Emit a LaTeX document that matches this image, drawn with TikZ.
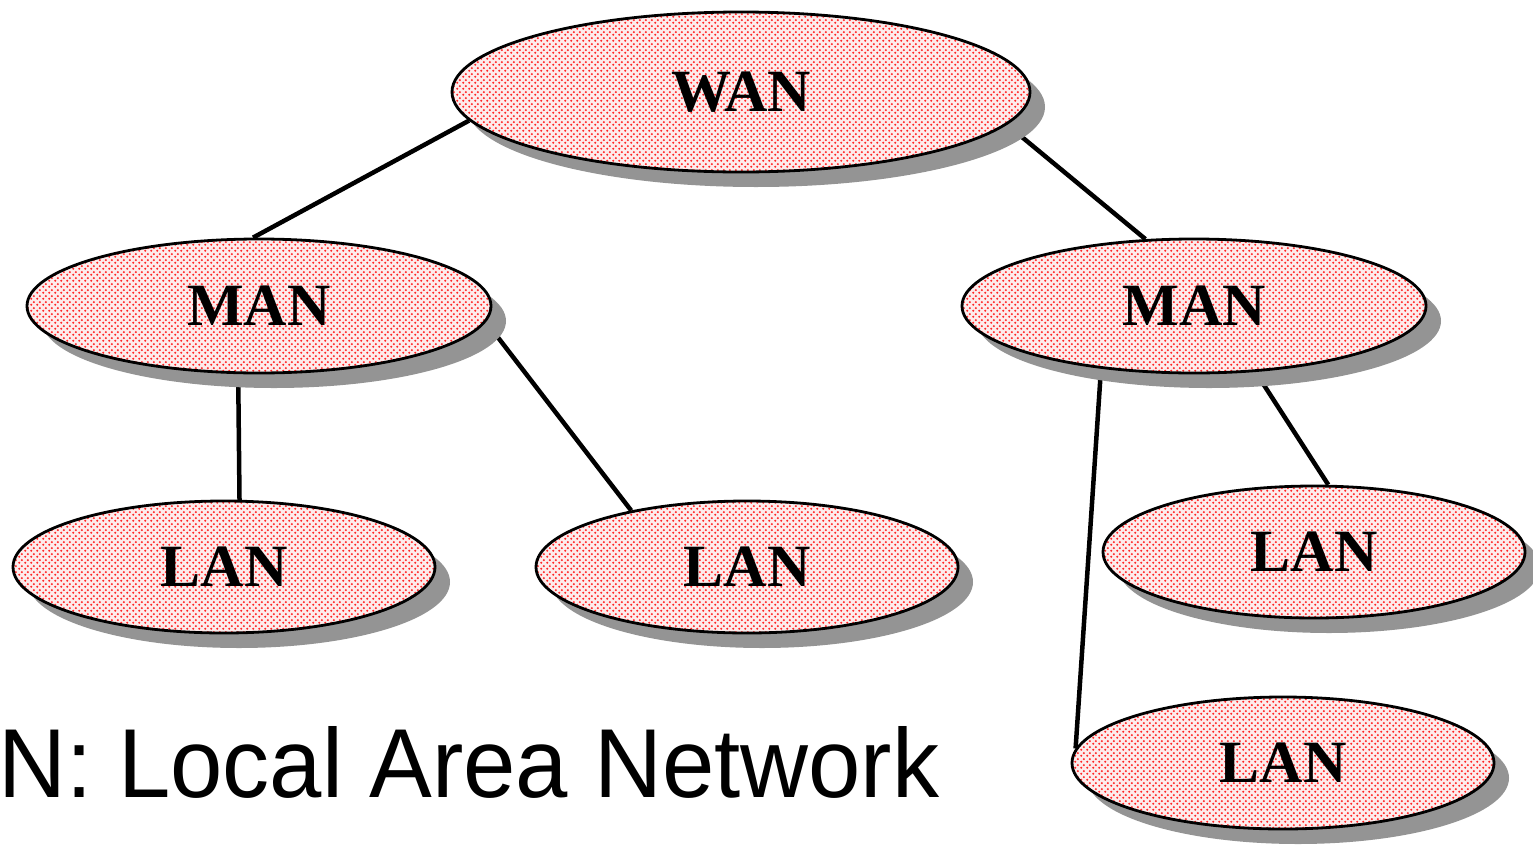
\documentclass[tikz,border=0pt]{standalone}
\usepackage{fontspec}
\setmainfont{Liberation Serif}
\newfontfamily\labelsans{Liberation Sans}
\usetikzlibrary{shapes.geometric,shadows,patterns,backgrounds}
\pgfdeclarepatternformonly{reddots}{\pgfpointorigin}{\pgfqpoint{6pt}{6pt}}{\pgfqpoint{6pt}{6pt}}{%
  \pgfpathcircle{\pgfqpoint{1.5pt}{1.5pt}}{1.3pt}\pgfusepath{fill}%
  \pgfpathcircle{\pgfqpoint{4.5pt}{4.5pt}}{1.3pt}\pgfusepath{fill}}
\definecolor{pinkbase}{RGB}{253,236,236}
\tikzset{
  net/.style={ellipse, draw=black, line width=2.8pt, inner sep=0pt,
    drop shadow={shadow xshift=15pt, shadow yshift=-15pt, fill=black!42, opacity=1},
    preaction={fill=pinkbase}, pattern=reddots, pattern color=red!85,
    font=\bfseries\fontsize{60}{62}\selectfont},
  wanbox/.style={net, minimum width=578pt, minimum height=160pt},
  manbox/.style={net, minimum width=464pt, minimum height=134pt},
  lanbox/.style={net, minimum width=422pt, minimum height=132pt},
  link/.style={line width=4.5pt, draw=black}
}
\begin{document}
\begin{tikzpicture}[x=1pt,y=-1pt]
\useasboundingbox (0,0) rectangle (1533,846);
\node[wanbox] (wan) at (741,92) {WAN};
\node[manbox] (ml) at (259,306) {MAN};
\node[manbox] (mr) at (1194,306) {MAN};
\node[lanbox] (l1) at (224,567) {LAN};
\node[lanbox] (l2) at (747,567) {LAN};
\node[lanbox] (l3) at (1314,552) {LAN};
\node[lanbox] (l4) at (1283,763) {LAN};
\begin{scope}[on background layer]
\draw[link] (wan.186) -- (ml.95);
\draw[link] (wan.-7.2) -- (mr.126);
\draw[link] (ml.253.4) -- (l1.77.2);
\draw[link] (ml.-4.5) -- (l2.154);
\draw[link] (mr.214) -- (l4.176.4);
\draw[link] (mr.-47.2) -- (l3.78.5);
\end{scope}
\node[anchor=base west, inner sep=0pt, xscale=0.96, font=\labelsans\fontsize{98}{100}\selectfont] (cap) at (-2,797) {N: Local Area Network};
\end{tikzpicture}
\end{document}
